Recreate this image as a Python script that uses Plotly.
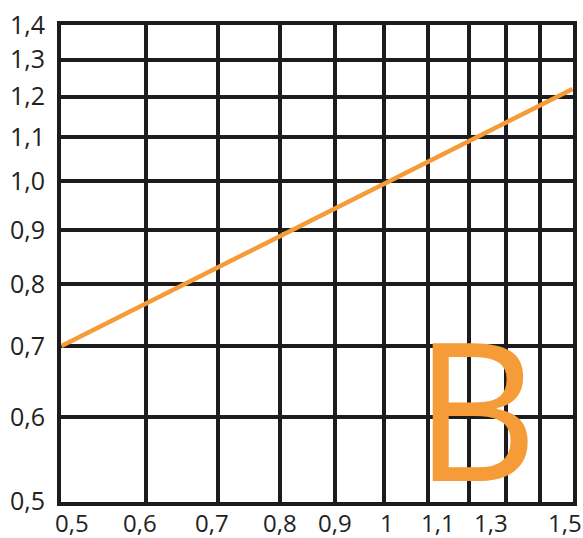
import math
import plotly.graph_objects as go

x_vals = [0.5, 1.5]
y_vals = [0.70, 1.22]

x_grid = [0.5, 0.6, 0.7, 0.8, 0.9, 1.0, 1.1, 1.2, 1.3, 1.4, 1.5]
x_label_vals = [0.5, 0.6, 0.7, 0.8, 0.9, 1.0, 1.1, 1.3, 1.5]
x_labels = ["0,5", "0,6", "0,7", "0,8", "0,9", "1", "1,1", "1,3", "1,5"]
y_ticks = [0.5, 0.6, 0.7, 0.8, 0.9, 1.0, 1.1, 1.2, 1.3, 1.4]
y_labels = ["0,5", "0,6", "0,7", "0,8", "0,9", "1,0", "1,1", "1,2", "1,3", "1,4"]

# pixel nudges of the x labels, as in the reference drawing (style only)
x_label_shift = [11, -6, -6, 0, 0, 3, 10, -15, -8]

grid_col = "#1c1c1f"
orange = "#F59B38"
font_fam = "Open Sans"

fig = go.Figure()
fig.add_trace(go.Scatter(x=x_vals, y=y_vals, mode="lines",
                         line=dict(color=orange, width=4.5), showlegend=False,
                         hoverinfo="skip"))

axis_common = dict(showgrid=True, gridcolor=grid_col, gridwidth=4,
                   showline=True, linecolor=grid_col, linewidth=4, mirror=True,
                   zeroline=False, ticks="", automargin=False,
                   tickfont=dict(family=font_fam, size=25, color="#222222"))

eps = 0.0004
annotations = []
for v, t, s in zip(x_label_vals, x_labels, x_label_shift):
    annotations.append(dict(text=t, xref="x", yref="paper", x=math.log10(v), y=0,
                            xanchor="center", yanchor="middle", yshift=-20, xshift=s,
                            showarrow=False, borderpad=0,
                            font=dict(family=font_fam, size=24, color="#222222")))
annotations.append(dict(text="B", xref="paper", yref="paper", x=0.81, y=0.2,
                        showarrow=False, xanchor="center", yanchor="middle",
                        font=dict(family=font_fam, size=192, color=orange)))

fig.update_layout(
    width=583, height=538,
    margin=dict(l=61, r=10, t=25, b=36),
    paper_bgcolor="white", plot_bgcolor="white",
    xaxis=dict(type="log", range=[math.log10(0.5) - eps, math.log10(1.5) + eps],
               tickvals=x_grid, showticklabels=False, **axis_common),
    yaxis=dict(type="log", range=[math.log10(0.5) - eps, math.log10(1.4) + eps],
               tickvals=y_ticks, ticktext=y_labels, ticklabelstandoff=7,
               ticklabeloverflow="allow", **axis_common),
    annotations=annotations,
)

fig.write_html(
    "out.html",
    config={"displayModeBar": False, "staticPlot": True},
    post_script="document.documentElement.style.overflow='hidden';"
                "document.body.style.margin='0';document.body.style.overflow='hidden';",
)
